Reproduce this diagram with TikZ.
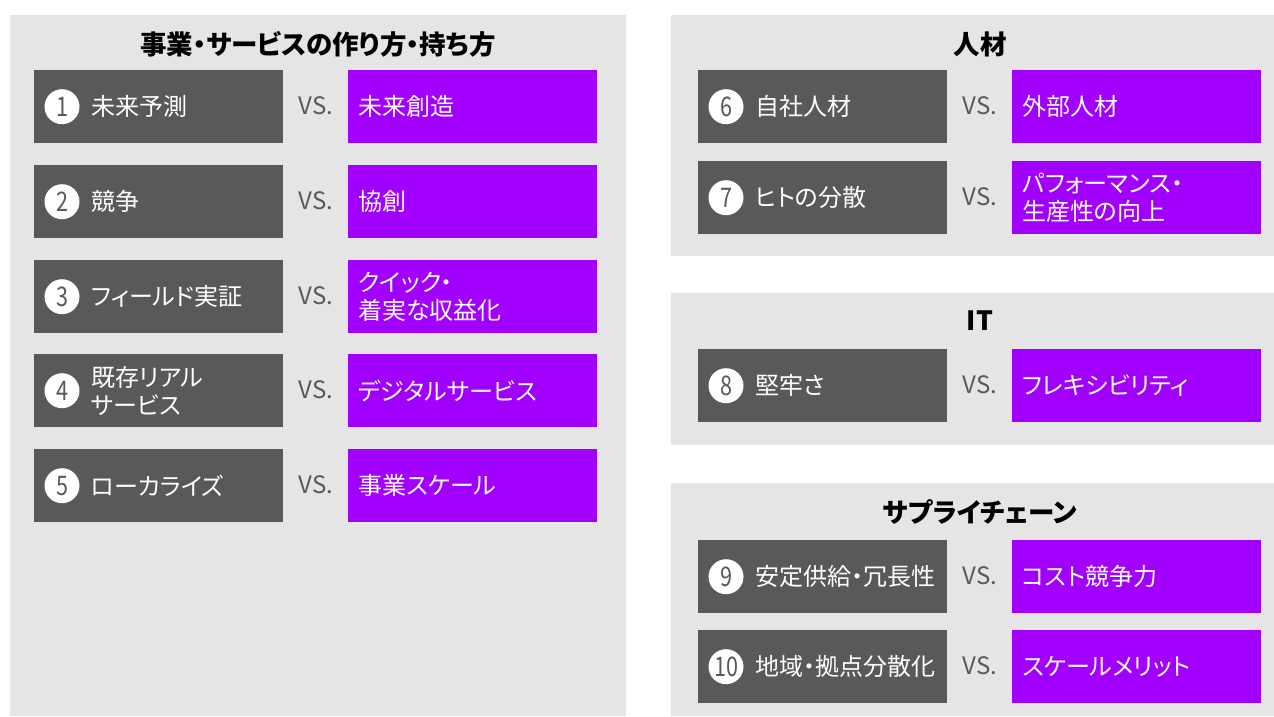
\documentclass[tikz,border=0pt]{standalone}
\usepackage{fontspec}
\setmainfont{Noto Sans CJK JP}[RawFeature=+palt]
\usetikzlibrary{calc}
\definecolor{panelbg}{HTML}{E5E5E5}
\definecolor{dkgray}{HTML}{595959}
\definecolor{accpurple}{HTML}{A100FF}
\tikzset{
  panel/.style={fill=panelbg, draw=none},
  darkbox/.style={anchor=north west, minimum width=249pt, minimum height=73pt, fill=dkgray, inner sep=0pt, draw=none},
  purplebox/.style={anchor=north west, minimum width=249pt, minimum height=73pt, fill=accpurple, inner sep=0pt, draw=none},
  numcirc/.style={circle, fill=white, minimum size=35pt, inner sep=0pt, text=dkgray, font=\fontsize{27}{28}\selectfont},
  boxtxt/.style={anchor=west, inner sep=0pt, align=left, text=white, font=\fontsize{24}{28}\selectfont},
  vstxt/.style={inner sep=0pt, text=dkgray, font=\fontsize{24}{26}\selectfont},
  paneltitle/.style={inner sep=0pt, text=black, font=\bfseries\fontsize{26.5}{28}\selectfont}
}
% #1 id, #2 dark box left x, #3 top y, #4 number, #5 left text, #6 right text
\newcommand\vsrow[6]{%
  \node[darkbox] (d#1) at (#2,#3) {};
  \node[purplebox] (p#1) at (#2+314,#3) {};
  \node[numcirc, xshift=28pt] (n#1) at (d#1.west) {\scalebox{0.8}[1]{#4}};
  \node[boxtxt, xshift=57pt] (l#1) at (d#1.west) {#5};
  \node[boxtxt, xshift=10pt] (r#1) at (p#1.west) {#6};
  \node[vstxt] (v#1) at ($(d#1.east)!0.5!(p#1.west)+(0,-1)$) {VS.};
}
\begin{document}
\begin{tikzpicture}[x=1pt,y=-1pt]
\useasboundingbox (0,0) rectangle (1274,716);
\fill[white] (0,0) rectangle (1274,716);
% panels
\path[panel] (10,15) rectangle (626,716);
\path[panel] (671,15) rectangle (1274,256);
\path[panel] (671,293) rectangle (1274,445);
\path[panel] (671,483) rectangle (1274,716);
% titles
\node[paneltitle] (t1) at (318,44) {事業・サービスの作り方・持ち方};
\node[paneltitle] (t2) at (980,44) {人材};
\node[paneltitle] (t3) at (980,321) {IT};
\node[paneltitle] (t4) at (980,512) {サプライチェーン};
% left rows
\vsrow{1}{34}{70}{1}{未来予測}{未来創造}
\vsrow{2}{34}{165}{2}{競争}{協創}
\vsrow{3}{34}{260}{3}{フィールド実証}{クイック・\\着実な収益化}
\vsrow{4}{34}{354}{4}{既存リアル\\サービス}{デジタルサービス}
\vsrow{5}{34}{449}{5}{ローカライズ}{事業スケール}
% right rows
\vsrow{6}{698}{70}{6}{自社人材}{外部人材}
\vsrow{7}{698}{161}{7}{ヒトの分散}{パフォーマンス・\\生産性の向上}
\vsrow{8}{698}{349}{8}{堅牢さ}{フレキシビリティ}
\vsrow{9}{698}{540}{9}{安定供給・冗長性}{コスト競争力}
\vsrow{10}{698}{630}{10}{地域・拠点分散化}{スケールメリット}
\end{tikzpicture}
\end{document}
